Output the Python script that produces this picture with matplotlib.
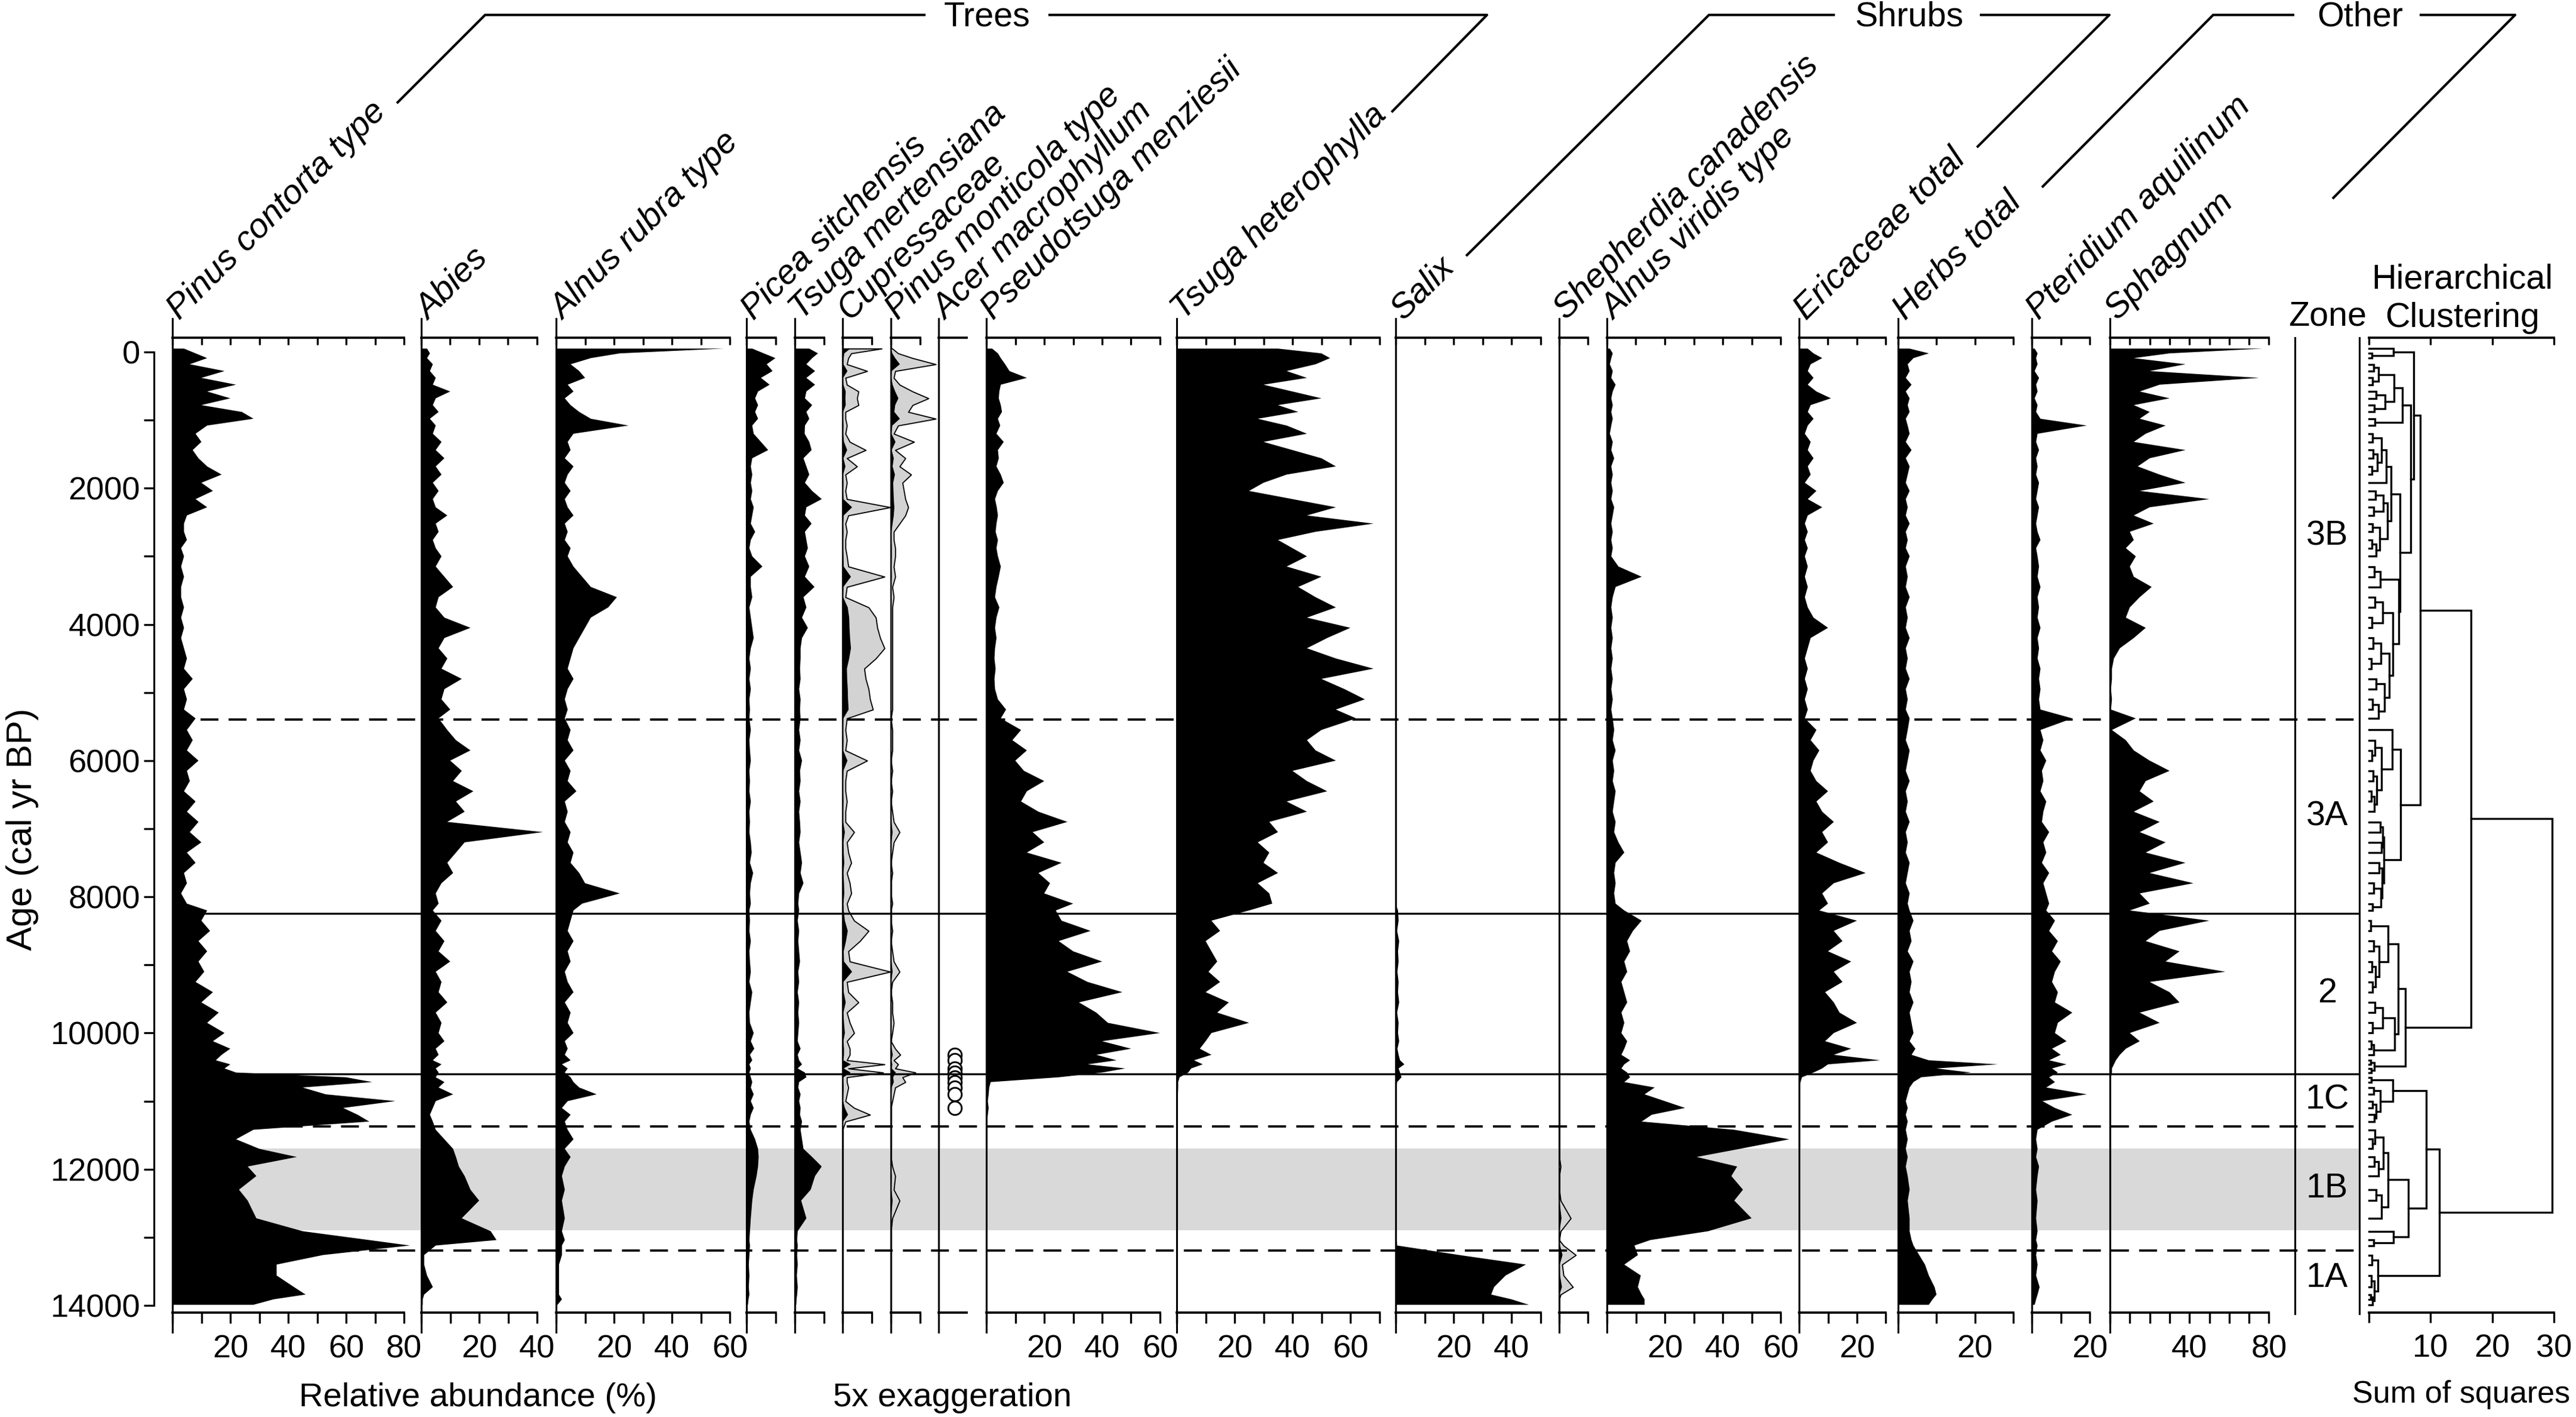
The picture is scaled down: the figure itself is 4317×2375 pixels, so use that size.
import numpy as np
import matplotlib
matplotlib.use("Agg")
import matplotlib.pyplot as plt
from matplotlib.lines import Line2D

plt.rcParams['font.family'] = ['Liberation Sans', 'DejaVu Sans']
plt.rcParams['lines.scale_dashes'] = False

W, H, DPI = 4317, 2375, 300

# ---------------- data ----------------
ages = [-50, 20, 90, 180, 280, 380, 480, 580, 680, 780,
        880, 980, 1080, 1200, 1320, 1440, 1560, 1680, 1800, 1920,
        2040, 2160, 2280, 2400, 2520, 2640, 2760, 2880, 3000, 3150,
        3300, 3450, 3600, 3750, 3900, 4050, 4200, 4350, 4500, 4650,
        4800, 4950, 5100, 5250, 5380, 5550, 5700, 5850, 6000, 6150,
        6300, 6450, 6600, 6750, 6900, 7050, 7200, 7350, 7500, 7650,
        7800, 7950, 8100, 8200, 8350, 8500, 8650, 8800, 8950, 9100,
        9250, 9400, 9550, 9700, 9850, 10000, 10120, 10230, 10320, 10400,
        10460, 10520, 10580, 10650, 10720, 10800, 10900, 11000, 11100, 11200,
        11300, 11420, 11560, 11700, 11820, 11960, 12100, 12300, 12460, 12720,
        12910, 13040, 13120, 13260, 13400, 13560, 13730, 13840, 13910, 13990]

pinus_contorta = [4, 8, 12, 6, 18, 10, 22, 12, 20, 10,
                  24, 28, 12, 8, 10, 7, 9, 12, 17, 10,
                  14, 8, 12, 5, 4, 4, 5, 3, 4, 3,
                  4, 3, 3, 4, 3, 4, 3, 4, 5, 4,
                  7, 4, 5, 4, 8, 5, 7, 5, 9, 5,
                  6, 4, 8, 5, 9, 6, 10, 5, 8, 4,
                  5, 3, 5, 12, 10, 13, 9, 12, 9, 11,
                  8, 14, 10, 16, 12, 18, 14, 20, 17, 15,
                  20, 18, 22, 60, 69, 45, 53, 77, 59, 64,
                  68, 28, 22, 30, 43, 26, 29, 23, 26, 29,
                  45, 68, 82, 52, 36, 36, 42, 46, 35, 28]

abies = [2, 3, 2, 4, 3, 5, 4, 10, 5, 4,
         6, 3, 5, 4, 7, 5, 8, 5, 7, 4,
         6, 4, 5, 9, 5, 6, 4, 5, 7, 5,
         8, 11, 6, 5, 8, 17, 8, 6, 9, 7,
         14, 8, 7, 10, 6, 9, 12, 17, 10, 14,
         11, 18, 12, 15, 9, 42, 15, 12, 9, 11,
         7, 5, 6, 4, 7, 5, 8, 6, 10, 5,
         7, 6, 9, 5, 7, 6, 8, 5, 6, 4,
         7, 5, 6, 5, 8, 6, 11, 5, 4, 3,
         4, 5, 8, 11, 12, 13, 15, 17, 20, 14,
         24, 26, 5, 1, 1, 2, 4, 1, 0.5, 0.5]

alnus_rubra = [58, 22, 12, 5, 8, 10, 4, 6, 3, 5,
               8, 12, 25, 6, 4, 5, 3, 6, 4, 3,
               5, 3, 4, 6, 3, 4, 3, 5, 4, 6,
               9, 12, 21, 18, 12, 10, 8, 6, 5, 4,
               6, 4, 3, 4, 3, 5, 4, 6, 3, 5,
               4, 7, 3, 4, 3, 5, 4, 6, 5, 8,
               10, 22, 9, 6, 5, 4, 6, 4, 5, 3,
               4, 6, 3, 5, 4, 6, 3, 4, 3, 5,
               2, 4, 3, 5, 6, 8, 14, 4, 2, 5,
               3, 4, 6, 3, 5, 3, 2, 3, 2, 3,
               2, 3, 2, 2, 1, 1, 1, 1, 2, 0.5]

picea_sitchensis = [2, 6, 10, 7, 9, 5, 8, 4, 3, 4,
                    3, 4, 2, 2.5, 5, 7.5, 2, 1.5, 2, 1.5,
                    2, 1.5, 2.5, 2, 1.5, 3, 1.5, 1, 2, 5.5,
                    1.5, 1.5, 2, 1, 1.5, 2, 2.5, 1.5, 1, 1.5,
                    1, 1.5, 1, 1.2, 1, 1.5, 1, 1.2, 1.5, 1,
                    1.2, 1, 1.5, 1, 1.2, 1, 1.5, 1.8, 1.2, 2.3,
                    1.5, 1.2, 1.5, 1, 1.2, 1, 1.5, 1, 1.2, 1.5,
                    1, 2, 1.5, 1, 1.2, 2.5, 1.5, 2.7, 1.2, 2,
                    1, 1.5, 1, 1.5, 2, 1.5, 2.5, 1.5, 2.5, 1.5,
                    1, 1.5, 3, 4, 4.2, 4, 3.5, 2.5, 2, 1.5,
                    1.2, 1, 1.2, 1, 0.8, 1, 0.8, 1, 0.7, 0.5]

tsuga_mertensiana = [5, 8, 6, 4, 7, 4, 7, 4, 3.5, 6,
                     4, 5, 3.5, 3.4, 5, 5.8, 3, 4, 5, 3.5,
                     6, 9.3, 4, 3.5, 5.8, 3.5, 4, 4.5, 3.5, 5,
                     3.5, 6.8, 3, 4, 2.5, 4.5, 2.5, 2, 2, 1.8,
                     2, 1.5, 2, 1.8, 2, 1.5, 2, 1.5, 2.5, 1.8,
                     2, 1.5, 2, 1.5, 1.8, 2, 1.5, 2, 2.5, 2,
                     3, 1.5, 1.2, 1.5, 1, 1.5, 1.2, 1.5, 1.8, 1.2,
                     1.5, 1, 1.5, 1.2, 1.5, 1.2, 1, 2, 1, 1.5,
                     2.5, 1, 3.5, 4, 1.5, 1.2, 2, 1.5, 2, 1.8,
                     2.5, 2, 2.5, 3, 6, 9.3, 7, 5.5, 2.2, 4,
                     1, 0.8, 1, 0.8, 1, 0.7, 1, 0.8, 0.6, 0.5]

cupressaceae = [2.7, 0.6, 0.4, 0.3, 1.7, 0.2, 0.3, 1.1, 1.0, 1.1,
                0.2, 0.2, 0.3, 0.2, 0.5, 1.6, 0.3, 1.0, 0.2, 0.3,
                0.2, 0.3, 3.3, 0.4, 0.2, 0.3, 0.2, 0.2, 0.3, 0.4,
                2.9, 0.3, 0.2, 1.8, 2.3, 2.4, 2.6, 2.9, 2.3, 1.5,
                1.6, 1.8, 1.9, 2.1, 0.3, 0.2, 0.3, 0.2, 1.7, 0.3,
                0.2, 0.2, 0.3, 0.2, 0.2, 0.8, 0.3, 0.4, 0.6, 0.3,
                0.5, 0.6, 0.3, 0.4, 0.8, 1.8, 1.2, 0.4, 0.5, 3.3,
                0.3, 0.4, 1.1, 0.3, 0.5, 0.8, 0.3, 0.5, 0.5, 0.3,
                2.9, 0.4, 2.8, 0.3, 0.3, 0.4, 0.3, 0.2, 0.8, 1.9,
                0.2, 0, 0, 0, 0, 0, 0, 0, 0, 0,
                0, 0, 0, 0, 0, 0, 0, 0, 0, 0]

pinus_monticola = [0.1, 0.5, 1.5, 3.1, 0.3, 0.2, 0.6, 1.5, 2.6, 1.5,
                   1.2, 3.1, 0.5, 0.2, 1.6, 0.3, 1.0, 0.6, 1.4, 0.8,
                   0.9, 1.0, 1.2, 1.0, 0.6, 0.2, 0.2, 0.3, 0.3, 0.2,
                   0.3, 0.1, 0.2, 0.1, 0.1, 0.1, 0.1, 0.1, 0.1, 0.1,
                   0.1, 0.1, 0.1, 0.1, 0, 0.1, 0.1, 0.1, 0, 0.1,
                   0, 0.1, 0, 0.1, 0.2, 0.6, 0.2, 0.1, 0, 0.1,
                   0, 0, 0.1, 0, 0, 0.1, 0, 0.1, 0.2, 0.6,
                   0.1, 0, 0.1, 0.1, 0.2, 0.1, 0, 0.3, 0.65, 0.2,
                   0.5, 0.3, 1.7, 0.8, 1.0, 0.3, 0.2, 0.1, 0, 0,
                   0, 0, 0, 0, 0, 0.1, 0.3, 0.2, 0.6, 0.1,
                   0, 0, 0, 0, 0, 0, 0, 0, 0, 0]

acer_macrophyllum = [0, 0, 0, 0, 0, 0, 0, 0, 0, 0,
                     0, 0, 0, 0, 0, 0, 0, 0, 0, 0,
                     0, 0, 0, 0, 0, 0, 0, 0, 0, 0,
                     0, 0, 0, 0, 0, 0, 0, 0, 0, 0,
                     0, 0, 0, 0, 0, 0, 0, 0, 0, 0,
                     0, 0, 0, 0, 0, 0, 0, 0, 0, 0,
                     0, 0, 0, 0, 0, 0, 0, 0, 0, 0,
                     0, 0, 0, 0, 0, 0, 0, 0, 0.5, 0.5,
                     0, 0.5, 0.5, 0.5, 0.5, 0.5, 0.5, 0, 0.5, 0,
                     0, 0, 0, 0, 0, 0, 0, 0, 0, 0,
                     0, 0, 0, 0, 0, 0, 0, 0, 0, 0]

pseudotsuga = [2, 4, 5, 6.5, 8, 14, 5, 4.5, 4.3, 5,
               5.4, 4, 4.8, 3.5, 6, 4, 4.3, 3.5, 5, 6,
               4, 3, 3.6, 4, 3.5, 3.2, 4, 3.5, 4, 5,
               4.3, 3.5, 3, 4.5, 3.5, 3, 3.5, 3, 2.8, 3.2,
               2.8, 3, 4, 6.8, 5, 12, 9, 14, 10, 13,
               20, 14, 12, 18, 28, 16, 20, 14, 26, 18,
               22, 20, 30, 24, 26, 36, 25, 30, 40, 28,
               35, 47, 32, 38, 42, 60, 40, 50, 38, 45,
               35, 48, 40, 25, 1.5, 1, 0.8, 0.5, 0.8, 0.5,
               0.3, 0.3, 0.2, 0.3, 0.2, 0.3, 0.2, 0.1, 0.2, 0.1,
               0.1, 0.1, 0.1, 0, 0, 0, 0, 0, 0, 0]

tsuga_heterophylla = [35, 50, 53, 48, 38, 45, 30, 40, 50, 35,
                      42, 28, 38, 45, 30, 40, 50, 55, 38, 30,
                      25, 40, 55, 45, 68, 48, 35, 40, 45, 38,
                      50, 42, 48, 55, 45, 60, 52, 45, 55, 68,
                      50, 58, 65, 55, 62, 50, 45, 48, 55, 40,
                      45, 52, 38, 45, 32, 35, 28, 32, 30, 35,
                      28, 32, 33, 25, 12, 15, 10, 12, 14, 11,
                      15, 10, 18, 14, 25, 12, 10, 8, 12, 6,
                      9, 5, 4, 1, 0.5, 0.5, 0.4, 0.3, 0.3, 0.3,
                      0.3, 0.3, 0.2, 0.3, 0.2, 0.3, 0.2, 0.2, 0.2, 0.2,
                      0.2, 0.2, 0.2, 0.1, 0.1, 0.1, 0.1, 0.1, 0.1, 0.1]

salix = [0, 0, 0, 0, 0, 0, 0, 0, 0, 0,
         0, 0, 0, 0, 0, 0, 0, 0, 0, 0,
         0, 0, 0, 0, 0, 0, 0, 0, 0, 0,
         0, 0, 0, 0, 0, 0, 0, 0, 0, 0,
         0, 0, 0, 0, 0, 0, 0, 0, 0, 0,
         0, 0, 0, 0, 0, 0, 0, 0, 0, 0,
         0, 0, 0, 0.8, 1, 0.5, 1.2, 0.8, 1, 0.6,
         1, 0.8, 1.2, 0.5, 1, 0.8, 1.2, 0.6, 1, 1.5,
         3, 1, 1.5, 2, 0.5, 0.3, 0.3, 0.2, 0.3, 0.2,
         0.3, 0.2, 0.3, 0.2, 0.2, 0.3, 0.2, 0.2, 0.3, 0.2,
         0.3, 0.4, 0.5, 22, 45, 38, 34, 33, 40, 46]

shepherdia = [0, 0, 0, 0, 0, 0, 0, 0, 0, 0,
              0, 0, 0, 0, 0, 0, 0, 0, 0, 0,
              0, 0, 0, 0, 0, 0, 0, 0, 0, 0,
              0, 0, 0, 0, 0, 0, 0, 0, 0, 0,
              0, 0, 0, 0, 0, 0, 0, 0, 0, 0,
              0, 0, 0, 0, 0, 0, 0, 0, 0, 0,
              0, 0, 0, 0, 0, 0, 0, 0, 0, 0,
              0, 0, 0, 0, 0, 0, 0, 0, 0, 0,
              0, 0, 0, 0, 0, 0, 0, 0, 0, 0,
              0, 0, 0, 0, 0, 0.1, 0, 0, 0.1, 0.8,
              0.1, 0, 0.3, 1.15, 0.2, 0.3, 0.95, 0.1, 0, 0]

alnus_viridis = [1, 2, 1.5, 1, 2, 1.5, 3, 2, 1.5, 2,
                 1.5, 2, 1.5, 1, 2, 1.5, 2.5, 1.5, 2, 1.5,
                 2, 1.5, 2.5, 2, 1.5, 2, 1.5, 2, 1.5, 4,
                 12, 3, 2, 1.5, 2, 1.5, 2, 1.5, 2, 1.5,
                 2, 1.5, 2, 1.5, 2, 2.5, 2, 3, 2, 2.5,
                 2, 3, 2.5, 2, 3, 2.5, 4, 6, 3, 2.5,
                 3, 2.5, 3, 6, 12, 9, 7, 8, 6, 7,
                 5, 6, 7, 5, 6, 5, 7, 6, 5, 8,
                 6, 5, 7, 8, 6, 16.5, 13, 20, 27, 15.5,
                 12, 44, 63, 46, 31, 45, 43, 47, 44, 50,
                 35, 15, 9.5, 10.7, 6, 11.7, 10.7, 12, 13, 13]

ericaceae = [3, 5, 8, 4, 3, 5, 3, 6, 11, 4,
             3, 5, 3, 2, 4, 3, 5, 3, 4, 2,
             6, 3, 8, 3, 2, 3, 2, 3, 2, 3,
             2, 3, 2, 3, 5, 10, 4, 3, 2, 3,
             2, 3, 2, 3, 2, 6, 4, 7, 5, 4,
             6, 10, 6, 8, 12, 8, 10, 6, 14, 23,
             12, 8, 10, 7, 20, 12, 15, 10, 18, 12,
             15, 9, 12, 14, 20, 12, 9, 18, 12, 28,
             10, 8, 5, 1, 0.5, 0.3, 0.3, 0.3, 0.2, 0.3,
             0.2, 0.3, 0.2, 0.3, 0.2, 0.2, 0.3, 0.2, 0.2, 0.2,
             0.2, 0.2, 0.2, 0.1, 0.1, 0.1, 0.1, 0.1, 0.1, 0.1]

herbs_total = [3, 8, 4, 2.5, 3, 2, 3.5, 2, 3, 2.5,
               3, 2, 2.5, 3, 2, 3.5, 2, 3, 2.5, 2,
               3, 2, 2.5, 2, 3, 2, 2.5, 2, 3, 2,
               2.5, 2, 3, 2, 2.5, 2, 3, 2, 2.5, 2,
               3, 2, 2.5, 2, 3, 2.5, 2, 3, 2.5, 2,
               3, 2, 2.5, 2, 3, 2, 2.5, 2, 3, 2.5,
               2, 3, 2.5, 3, 4, 3, 3.5, 2.5, 4, 3,
               3.5, 3, 4, 3, 3.5, 4, 3, 4.5, 3.5, 8,
               26, 10, 19, 6, 4, 3, 2.5, 2, 2.5, 2,
               2.5, 2, 2.5, 2, 2.5, 2, 2.5, 3, 2.5, 3,
               3, 3.5, 4, 5.5, 7, 8, 9.5, 10, 9, 8]

pteridium = [1, 2, 1.5, 2, 1, 2.5, 1.5, 2, 1, 2,
             1.5, 3, 19, 2, 1.5, 2.5, 1.5, 2, 1.5, 2.5,
             2, 1.5, 2.5, 2, 1.5, 2, 3, 1.5, 2, 2.5,
             2, 3, 2, 2.5, 2, 3, 2, 2.5, 2, 3,
             2.5, 3, 2.5, 3, 14, 3, 4, 3, 5, 3.5,
             4, 3, 5, 4, 3.5, 6, 4, 5, 3.5, 6,
             4, 5, 6, 5, 8, 6, 9, 7, 10, 8,
             7, 9, 8, 14, 9, 8, 12, 7, 10, 6,
             12, 7, 9, 6, 8, 5, 19, 3.7, 8, 14,
             7, 2, 1.5, 2, 1.5, 2.5, 2, 1.5, 2, 1.5,
             2, 1.5, 2, 1.5, 2, 1.5, 2.7, 2, 1.5, 1]

sphagnum = [77, 30, 12, 38, 20, 75, 25, 15, 30, 12,
            20, 15, 28, 18, 12, 38, 20, 14, 25, 38,
            15, 50, 20, 12, 22, 10, 12, 8, 13, 10,
            12, 21, 15, 10, 8, 18, 12, 5, 2, 1,
            1, 0.5, 1, 0.5, 13, 1, 8, 12, 20, 30,
            18, 15, 22, 12, 25, 15, 28, 18, 38, 20,
            42, 15, 20, 10, 50, 25, 18, 35, 28, 58,
            20, 30, 35, 15, 25, 10, 15, 8, 5, 3,
            2, 1, 1, 0.5, 0.5, 0.3, 0.3, 0.2, 0.2, 0.2,
            0.2, 0.2, 0.2, 0.2, 0.2, 0.2, 0.2, 0.2, 0.2, 0.2,
            0.2, 0.2, 0.2, 0.2, 0.2, 0.2, 0.2, 0.2, 0.2, 0.2]

# constrained clustering: merge height of the gap between consecutive samples
gap_heights = [4.0, 0.5, 7.3, 0.8, 1.5, 0.6, 4.1, 1.2, 2.6, 0.9,
               5.4, 1.0, 6.75, 0.6, 2.0, 0.7, 1.4, 0.5, 2.8, 3.6,
               1.1, 2.3, 0.8, 3.0, 0.6, 1.7, 0.5, 1.2, 5.0, 0.9,
               1.8, 4.8, 1.0, 2.2, 0.5, 3.86, 0.7, 1.9, 0.4, 3.3,
               1.2, 2.5, 0.6, 1.5, 8.3, 3.8, 1.0, 0.5, 2.0, 0.7,
               1.3, 0.4, 0.9, 5.1, 1.8, 2.2, 2.0, 2.4, 1.6, 2.1,
               0.8, 1.9, 0.6, 16.5, 0.3, 3.1, 0.8, 1.6, 0.5, 1.1,
               0.6, 4.75, 1.0, 2.2, 0.6, 4.2, 0.4, 0.8, 5.95, 0.3,
               0.9, 0.4, 29.7, 0.4, 3.86, 0.8, 1.8, 0.6, 1.2, 0.9,
               9.25, 1.0, 0.6, 2.3, 0.9, 1.5, 3.1, 1.2, 2.0, 6.4,
               4.0, 0.8, 11.4, 0.5, 1.45, 0.4, 0.9, 0.3, 0.6]

zone_edges = [0, 5400, 8240, 10600, 11370, 13190, 14000]
zone_names = ['3B', '3A', '2', '1C', '1B', '1A']
zone_dashed = [5400, 11370, 13190]
zone_solid = [8240, 10600]
younger_dryas = [11700, 12900]

age_major = [0, 2000, 4000, 6000, 8000, 10000, 12000, 14000]
age_minor = [1000, 3000, 5000, 7000, 9000, 11000, 13000]
ss_ticks = [0, 10, 20, 30]
ss_labels = ['', '10', '20', '30']

lens = {k: len(v) for k, v in dict(ages=ages, pinus_contorta=pinus_contorta, abies=abies,
        alnus_rubra=alnus_rubra, picea=picea_sitchensis, tsm=tsuga_mertensiana,
        cup=cupressaceae, pmo=pinus_monticola, acer=acer_macrophyllum, pse=pseudotsuga,
        tsh=tsuga_heterophylla, salix=salix, she=shepherdia, alv=alnus_viridis,
        eri=ericaceae, her=herbs_total, pte=pteridium, sph=sphagnum).items()}
if len(set(lens.values())) != 1 or len(gap_heights) != len(ages) - 1:
    raise SystemExit(f"length mismatch {lens} gaps={len(gap_heights)}")

# --------------- layout (pixels) ---------------
AX_TOP, AX_BOT = 566, 2200
YLIM = (14105, -210)
SPINE_EXT_TOP = (AX_TOP - 534) / (AX_BOT - AX_TOP)
SPINE_EXT_BOT = (2233 - AX_BOT) / (AX_BOT - AX_TOP)

# (label, values, left px, px per unit, axis max, style, labelled ticks)
panels = [
    ('Pinus contorta type', pinus_contorta, 289, 4.85, 80, 'solid', [20, 40, 60, 80]),
    ('Abies', abies, 706, 4.85, 40, 'solid', [20, 40]),
    ('Alnus rubra type', alnus_rubra, 932, 4.85, 60, 'solid', [20, 40, 60]),
    ('Picea sitchensis', picea_sitchensis, 1251, 4.85, 10, 'solid', []),
    ('Tsuga mertensiana', tsuga_mertensiana, 1332, 4.85, 10, 'solid', []),
    ('Cupressaceae', cupressaceae, 1412, 4.85, 10, 'exag', []),
    ('Pinus monticola type', pinus_monticola, 1493, 4.85, 10, 'exag', []),
    ('Acer macrophyllum', acer_macrophyllum, 1573, 4.7, 10, 'points', None),
    ('Pseudotsuga menziesii', pseudotsuga, 1653, 4.85, 60, 'solid', [20, 40, 60]),
    ('Tsuga heterophylla', tsuga_heterophylla, 1972, 4.85, 70, 'solid', [20, 40, 60]),
    ('Salix', salix, 2339, 4.85, 50, 'solid', [20, 40]),
    ('Shepherdia canadensis', shepherdia, 2613, 4.85, 10, 'exag', []),
    ('Alnus viridis type', alnus_viridis, 2693, 4.85, 60, 'solid', [20, 40, 60]),
    ('Ericaceae total', ericaceae, 3015, 4.85, 30, 'solid', [20]),
    ('Herbs total', herbs_total, 3181, 6.43, 30, 'solid', [20]),
    ('Pteridium aquilinum', pteridium, 3405, 4.85, 20, 'solid', [20]),
    ('Sphagnum', sphagnum, 3536, 3.33, 80, 'solid', [40, 80]),
]

FS_TICK = 13
FS_LAB = 13.8
LW_AX = 0.9
LW_SP = 0.75

fig = plt.figure(figsize=(W / DPI, H / DPI), dpi=DPI)


def rect(x0, x1, yt=AX_TOP, yb=AX_BOT):
    return [x0 / W, 1 - yb / H, (x1 - x0) / W, (yb - yt) / H]


# figure-level pixel axes for decorations
figax = fig.add_axes([0, 0, 1, 1], zorder=-2)
figax.set_xlim(0, W)
figax.set_ylim(H, 0)
figax.axis('off')

ages_a = np.array(ages, dtype=float)

# background: Younger Dryas band
bg = fig.add_axes(rect(289, 3954), zorder=0)
bg.set_xlim(0, 1)
bg.set_ylim(*YLIM)
bg.axis('off')
bg.axhspan(younger_dryas[0], younger_dryas[1], color='#d9d9d9', lw=0)


def style_bottom_top(ax, xmax, labelled):
    ax.set_xlim(0, xmax)
    ax.set_ylim(*YLIM)
    ax.patch.set_visible(False)
    for s in ['left', 'right', 'top']:
        ax.spines[s].set_visible(False)
    ax.spines['bottom'].set_bounds(0, xmax)
    ax.spines['bottom'].set_linewidth(LW_AX)
    ax.set_yticks([])
    if labelled is None:
        ticks = []
    else:
        ticks = list(range(0, xmax + 1, 10))
    ax.set_xticks(ticks)
    ax.set_xticklabels([str(t) if (labelled and t in labelled) else '' for t in ticks])
    ax.tick_params(axis='x', direction='out', length=4.3, width=0.8,
                   labelsize=FS_TICK, pad=4.5)
    top = ax.twiny()
    top.set_xlim(0, xmax)
    top.patch.set_visible(False)
    for s in ['left', 'right', 'bottom']:
        top.spines[s].set_visible(False)
    top.spines['top'].set_bounds(0, xmax)
    top.spines['top'].set_linewidth(LW_AX)
    top.set_xticks(ticks)
    top.tick_params(axis='x', direction='in', length=2.9, width=0.8,
                    labeltop=False, top=True, bottom=False)
    ax.add_line(Line2D([0, 0], [-SPINE_EXT_BOT, 1 + SPINE_EXT_TOP], transform=ax.transAxes,
                       color='black', lw=LW_SP, clip_on=False))


for name, vals, x0, ppu, xmax, style, labelled in panels:
    ax = fig.add_axes(rect(x0, x0 + ppu * xmax), zorder=1)
    style_bottom_top(ax, xmax, labelled)
    v = np.array(vals, dtype=float)
    if style == 'exag':
        ax.fill_betweenx(ages_a, 0, 5 * v, facecolor='#d3d3d3', edgecolor='black',
                         lw=0.45, clip_on=False, zorder=2)
        ax.fill_betweenx(ages_a, 0, v, facecolor='black', lw=0, clip_on=False, zorder=3)
    elif style == 'points':
        m = v > 0
        ax.plot(np.full(m.sum(), 5.7), ages_a[m], 'o', ms=5.4, mfc='white',
                mec='black', mew=0.7, clip_on=False, zorder=3)
    else:
        ax.fill_betweenx(ages_a, 0, v, facecolor='black', lw=0, clip_on=False, zorder=3)
    figax.text(x0 + 12, 538, name, rotation=45, rotation_mode='anchor', ha='left',
               va='baseline', style='italic', fontsize=FS_LAB)

# age axis
aa = fig.add_axes(rect(258, 270), zorder=1)
aa.set_ylim(*YLIM)
aa.patch.set_visible(False)
for s in ['right', 'top', 'bottom']:
    aa.spines[s].set_visible(False)
aa.spines['left'].set_bounds(0, 14000)
aa.spines['left'].set_linewidth(LW_SP)
aa.set_xticks([])
aa.set_yticks(age_major)
aa.set_yticklabels([str(a) for a in age_major])
aa.set_yticks(age_minor, minor=True)
aa.tick_params(axis='y', which='both', direction='out', length=4.0, width=0.8,
               labelsize=FS_TICK, pad=1.5)

# zone column
az = fig.add_axes(rect(3846, 3954, AX_TOP, 2202), zorder=1)
az.set_xlim(0, 1)
az.set_ylim(YLIM[0] + (2202 - AX_BOT) / 0.11414, YLIM[1])
az.patch.set_visible(False)
for s in ['top', 'bottom']:
    az.spines[s].set_visible(False)
for s in ['left', 'right']:
    az.spines[s].set_linewidth(LW_SP)
az.set_xticks([])
az.set_yticks([])
for i, zn in enumerate(zone_names):
    az.text(0.5, (zone_edges[i] + zone_edges[i + 1]) / 2, zn, ha='center', va='center',
            fontsize=FS_LAB)

# zone boundary lines overlay
ov = fig.add_axes(rect(289, 3954), zorder=4)
ov.set_xlim(0, 1)
ov.set_ylim(*YLIM)
ov.axis('off')
for z in zone_dashed:
    ov.axhline(z, color='black', lw=0.9, dashes=(7.2, 4.1))
for z in zone_solid:
    ov.axhline(z, color='black', lw=0.8)

# dendrogram
ad = fig.add_axes(rect(3970, 4280), zorder=1)
ad.set_xlim(0, 30)
ad.set_ylim(*YLIM)
ad.patch.set_visible(False)
for s in ['left', 'right', 'top']:
    ad.spines[s].set_visible(False)
ad.spines['bottom'].set_bounds(0, 30)
ad.spines['bottom'].set_linewidth(LW_AX)
ad.set_yticks([])
ad.set_xticks(ss_ticks)
ad.set_xticklabels(ss_labels)
ad.tick_params(axis='x', direction='out', length=4.0, width=0.8, labelsize=FS_TICK, pad=4.5)
adt = ad.twiny()
adt.set_xlim(0, 30)
adt.patch.set_visible(False)
for s in ['left', 'right', 'bottom']:
    adt.spines[s].set_visible(False)
adt.spines['top'].set_bounds(0, 30)
adt.spines['top'].set_linewidth(LW_AX)
adt.set_xticks(ss_ticks)
adt.tick_params(axis='x', direction='in', length=2.9, width=0.8, labeltop=False)

gaps_a = np.array(gap_heights, dtype=float)


def draw_tree(lo, hi):
    if lo == hi:
        return ages_a[lo], 0.0
    k = lo + int(np.argmax(gaps_a[lo:hi]))
    y1, h1 = draw_tree(lo, k)
    y2, h2 = draw_tree(k + 1, hi)
    h = gaps_a[k]
    ad.plot([h1, h, h, h2], [y1, y1, y2, y2], color='black', lw=0.8,
            solid_joinstyle='miter', clip_on=False)
    return (y1 + y2) / 2, h


draw_tree(0, len(ages) - 1)

# texts
figax.text(38, 1390, 'Age (cal yr BP)', rotation=90, ha='center', va='center', fontsize=14.5)
figax.text(801, 2343, 'Relative abundance (%)', ha='center', va='center', fontsize=13.5)
figax.text(1596, 2343, '5x exaggeration', ha='center', va='center', fontsize=13.5)
figax.text(4125, 2337, 'Sum of squares', ha='center', va='center', fontsize=12.5)
figax.text(3901, 546, 'Zone', ha='center', va='baseline', fontsize=FS_LAB)
figax.text(4126, 484, 'Hierarchical', ha='center', va='baseline', fontsize=FS_LAB)
figax.text(4126, 548, 'Clustering', ha='center', va='baseline', fontsize=FS_LAB)

# group headers
HL = dict(color='black', lw=1.0, solid_capstyle='butt')
figax.plot([665, 813, 1551], [173, 25, 25], **HL)
figax.plot([1757, 2492, 2332], [25, 25, 188], **HL)
figax.text(1654, 28, 'Trees', ha='center', va='center', fontsize=FS_LAB)
figax.plot([2457, 2864, 3075], [429, 25, 25], **HL)
figax.plot([3318, 3535, 3313], [25, 25, 247], **HL)
figax.text(3199, 28, 'Shrubs', ha='center', va='center', fontsize=FS_LAB)
figax.plot([3422, 3709, 3845], [314, 25, 25], **HL)
figax.plot([4055, 4215, 3909], [25, 25, 333], **HL)
figax.text(3955, 28, 'Other', ha='center', va='center', fontsize=FS_LAB)

fig.savefig('out.png', dpi=DPI)
